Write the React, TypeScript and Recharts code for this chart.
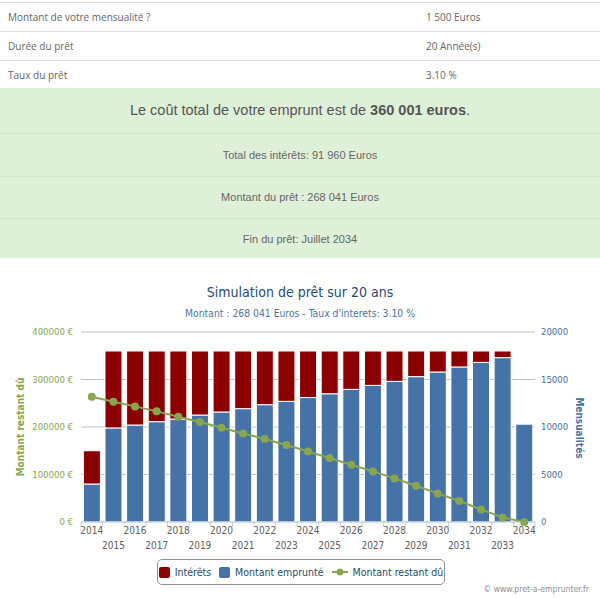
import { ComposedChart, Bar, Line, XAxis, YAxis, CartesianGrid } from 'recharts';

const YEARS = [
  '2014', '2015', '2016', '2017', '2018', '2019', '2020', '2021', '2022', '2023', '2024',
  '2025', '2026', '2027', '2028', '2029', '2030', '2031', '2032', '2033', '2034',
];

// capital remboursé par an (axe de droite)
const MONTANT_EMPRUNTE = [
  4000, 9900, 10210, 10560, 10840, 11260, 11580, 11930, 12350, 12700, 13100,
  13500, 13960, 14380, 14800, 15300, 15790, 16320, 16800, 17300, 10300,
];

// intérêts payés par an (axe de droite)
const INTERETS = [
  3500, 8100, 7790, 7440, 7160, 6740, 6420, 6070, 5650, 5300, 4900,
  4500, 4040, 3620, 3200, 2700, 2210, 1680, 1200, 700, 0,
];

// capital restant dû en fin d'année (axe de gauche)
const RESTANT_DU = [
  263800, 253300, 243400, 232900, 221700, 210500, 198500, 186500, 174700, 162100, 148300,
  134700, 120600, 106500, 91800, 76400, 60200, 44200, 26500, 9700, 0,
];

const LEFT_TICKS = [0, 100000, 200000, 300000, 400000];
const RIGHT_TICKS = [0, 5000, 10000, 15000, 20000];

const SUMMARY_ROWS = [
  ['Montant de votre mensualité ?', '1 500 Euros'],
  ['Durée du prêt', '20 Année(s)'],
  ['Taux du prêt', '3.10 %'],
];

const RED = '#8B0000';
const BLUE = '#4572A7';
const GREEN = '#89A54E';
const CHART_FONT = '"DejaVu Sans Condensed", "DejaVu Sans", sans-serif';

function YearTick(props: any) {
  const { x, y, payload, index } = props;
  const half = payload.offset || 10.8;
  const dy = index % 2 === 0 ? 12 : 27;
  return (
    <g>
      <line x1={x - half} x2={x - half} y1={y} y2={y + 5} stroke="#C0D0E0" />
      {index === YEARS.length - 1 && (
        <line x1={x + half} x2={x + half} y1={y} y2={y + 5} stroke="#C0D0E0" />
      )}
      <text x={x} y={y + dy} textAnchor="middle" fontSize={10} fill="#606060" fontFamily={CHART_FONT}>
        {payload.value}
      </text>
    </g>
  );
}

export default function App() {
  const data = YEARS.map((year, i) => ({
    year,
    emprunte: MONTANT_EMPRUNTE[i],
    interets: INTERETS[i],
    restant: RESTANT_DU[i],
  }));

  return (
    <div
      style={{
        position: 'absolute',
        left: 0,
        top: 0,
        width: 600,
        height: 598,
        background: '#fff',
        overflow: 'hidden',
      }}
    >
      {/* tableau récapitulatif */}
      <div style={{ position: 'absolute', left: 0, top: 2, width: 600, fontFamily: '"Open Sans", sans-serif', fontSize: 10, color: '#666' }}>
        {SUMMARY_ROWS.map(([label, value]) => (
          <div key={label} style={{ position: 'relative', height: 28, borderTop: '1px solid #ddd', lineHeight: '28px' }}>
            <span style={{ position: 'absolute', left: 8 }}>{label}</span>
            <span style={{ position: 'absolute', left: 426 }}>{value}</span>
          </div>
        ))}
      </div>

      {/* encadré vert */}
      <div
        style={{
          position: 'absolute',
          left: 0,
          top: 88,
          width: 600,
          height: 170,
          background: '#dff0d8',
          fontFamily: '"Liberation Sans", Arial, sans-serif',
          color: '#666',
          textAlign: 'center',
        }}
      >
        <div style={{ height: 45, lineHeight: '45px', fontSize: 14.5, color: '#555', borderBottom: '1px solid #d0e6c6' }}>
          Le coût total de votre emprunt est de <b>360 001 euros</b>.
        </div>
        <div style={{ height: 42, lineHeight: '42px', fontSize: 11, borderBottom: '1px solid #d0e6c6' }}>
          Total des intérêts: 91 960 Euros
        </div>
        <div style={{ height: 41, lineHeight: '41px', fontSize: 11, borderBottom: '1px solid #d0e6c6' }}>
          Montant du prêt : 268 041 Euros
        </div>
        <div style={{ height: 40, lineHeight: '40px', fontSize: 11 }}>Fin du prêt: Juillet 2034</div>
      </div>

      {/* titres du graphique */}
      <div style={{ position: 'absolute', left: 0, top: 283, width: 600, textAlign: 'center', fontFamily: CHART_FONT, fontSize: 14, color: '#274b6d', lineHeight: '18px' }}>
        Simulation de prêt sur 20 ans
      </div>
      <div style={{ position: 'absolute', left: 0, top: 306, width: 600, textAlign: 'center', fontFamily: CHART_FONT, fontSize: 10.3, color: '#4d759e', lineHeight: '14px' }}>
        Montant : 268 041 Euros - Taux d'interets: 3.10 %
      </div>

      <div style={{ position: 'absolute', left: 0, top: 270 }}>
        <ComposedChart
          width={600}
          height={328}
          data={data}
          margin={{ top: 62, right: 0, bottom: 0, left: 0 }}
          barCategoryGap="11%"
        >
          <CartesianGrid yAxisId="right" vertical={false} stroke="#C0C0C0" />
          <XAxis
            dataKey="year"
            height={76}
            interval={0}
            stroke="#C0D0E0"
            tickLine={false}
            tickSize={0}
            tickMargin={0}
            tick={<YearTick />}
          />
          <YAxis
            yAxisId="left"
            orientation="left"
            width={81}
            domain={[0, 400000]}
            ticks={LEFT_TICKS}
            axisLine={false}
            tickLine={false}
            tickSize={6}
            tickMargin={2}
            tickFormatter={(v: number) => `${v} €`}
            tick={{ fill: GREEN, fontSize: 9.5, fontFamily: CHART_FONT }}
          />
          <YAxis
            yAxisId="right"
            orientation="right"
            width={65}
            domain={[0, 20000]}
            ticks={RIGHT_TICKS}
            axisLine={false}
            tickLine={false}
            tickSize={4}
            tickMargin={2}
            tick={{ fill: BLUE, fontSize: 9.5, fontFamily: CHART_FONT }}
          />
          <Bar yAxisId="right" dataKey="emprunte" stackId="a" fill={BLUE} stroke="#fff" strokeWidth={1} isAnimationActive={false} />
          <Bar yAxisId="right" dataKey="interets" stackId="a" fill={RED} stroke="#fff" strokeWidth={1} isAnimationActive={false} />
          <Line
            yAxisId="left"
            dataKey="restant"
            stroke={GREEN}
            strokeWidth={2}
            dot={{ r: 4, fill: GREEN, stroke: GREEN, strokeWidth: 0 }}
            isAnimationActive={false}
          />
        </ComposedChart>
      </div>

      {/* titres des axes */}
      <div
        style={{
          position: 'absolute',
          left: 20,
          top: 427,
          transform: 'translate(-50%, -50%) rotate(-90deg)',
          whiteSpace: 'nowrap',
          fontFamily: CHART_FONT,
          fontSize: 10,
          fontWeight: 'bold',
          color: GREEN,
        }}
      >
        Montant restant dû
      </div>
      <div
        style={{
          position: 'absolute',
          left: 579,
          top: 428,
          transform: 'translate(-50%, -50%) rotate(90deg)',
          whiteSpace: 'nowrap',
          fontFamily: CHART_FONT,
          fontSize: 10,
          fontWeight: 'bold',
          color: BLUE,
        }}
      >
        Mensualités
      </div>

      {/* légende */}
      <div
        style={{
          position: 'absolute',
          left: 157,
          top: 559,
          width: 286,
          height: 24,
          border: '1px solid #909090',
          borderRadius: 5,
          display: 'flex',
          alignItems: 'center',
          justifyContent: 'center',
          gap: 5,
          fontFamily: CHART_FONT,
          fontSize: 10.5,
          color: '#274b6d',
        }}
      >
        <span style={{ display: 'inline-block', width: 11, height: 11, borderRadius: 2, background: RED }} />
        <span>Intérêts</span>
        <span style={{ display: 'inline-block', width: 11, height: 11, borderRadius: 2, background: BLUE, marginLeft: 3 }} />
        <span>Montant emprunté</span>
        <svg width={16} height={10} style={{ marginLeft: 3 }}>
          <line x1={0} x2={16} y1={5} y2={5} stroke={GREEN} strokeWidth={2} />
          <circle cx={8} cy={5} r={3.5} fill={GREEN} />
        </svg>
        <span>Montant restant dû</span>
      </div>

      <div style={{ position: 'absolute', right: 11, top: 584, fontFamily: CHART_FONT, fontSize: 8.6, color: '#909090' }}>
        © www.pret-a-emprunter.fr
      </div>
    </div>
  );
}
